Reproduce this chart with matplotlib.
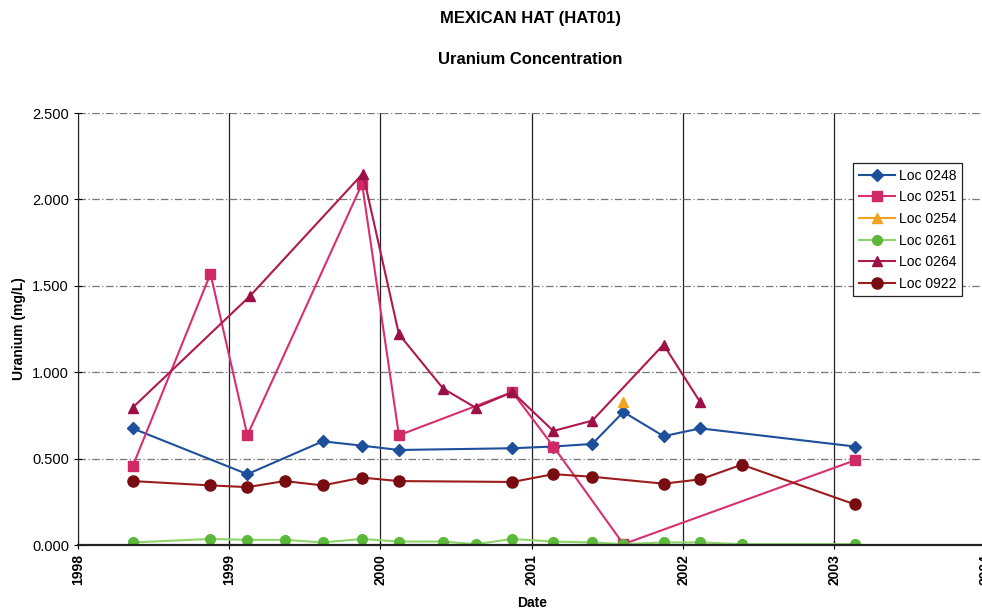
# Mexican Hat (HAT01) uranium concentration chart
import pandas as pd
import matplotlib
matplotlib.use('Agg')
import matplotlib.pyplot as plt
import matplotlib.dates as mdates

plt.rcParams['font.family'] = ['Liberation Sans', 'DejaVu Sans']

# sample dates and values
d_0248 = ['1998-05-13', '1999-02-14', '1999-08-15', '1999-11-18', '2000-02-15',
          '2000-11-15', '2001-02-22', '2001-05-27', '2001-08-10', '2001-11-15',
          '2002-02-12', '2003-02-20']
v_0248 = [0.675, 0.41, 0.60, 0.575, 0.55, 0.56, 0.57, 0.585, 0.77, 0.63, 0.675, 0.57]

d_0251 = ['1998-05-13', '1998-11-17', '1999-02-14', '1999-11-18', '2000-02-15',
          '2000-11-15', '2001-02-22', '2001-08-10', '2003-02-20']
v_0251 = [0.455, 1.57, 0.635, 2.09, 0.635, 0.885, 0.57, 0.005, 0.49]

d_0254 = ['2001-08-10']
v_0254 = [0.825]

d_0261 = ['1998-05-13', '1998-11-17', '1999-02-14', '1999-05-15', '1999-08-15',
          '1999-11-18', '2000-02-15', '2000-06-01', '2000-08-18', '2000-11-15',
          '2001-02-22', '2001-05-27', '2001-08-10', '2001-11-15', '2002-02-12',
          '2002-05-23', '2003-02-20']
v_0261 = [0.015, 0.035, 0.03, 0.03, 0.015, 0.035, 0.02, 0.02, 0.005, 0.035,
          0.02, 0.015, 0.005, 0.015, 0.015, 0.005, 0.005]

d_0264 = ['1998-05-13', '1999-02-20', '1999-11-20', '2000-02-15', '2000-06-01',
          '2000-08-18', '2000-11-15', '2001-02-22', '2001-05-27', '2001-11-15',
          '2002-02-12']
v_0264 = [0.795, 1.44, 2.15, 1.22, 0.905, 0.795, 0.885, 0.66, 0.72, 1.16, 0.825]

d_0922 = ['1998-05-13', '1998-11-17', '1999-02-14', '1999-05-15', '1999-08-15',
          '1999-11-18', '2000-02-15', '2000-11-15', '2001-02-22', '2001-05-27',
          '2001-11-15', '2002-02-12', '2002-05-23', '2003-02-20']
v_0922 = [0.37, 0.345, 0.335, 0.37, 0.345, 0.39, 0.37, 0.365, 0.41, 0.395,
          0.355, 0.38, 0.465, 0.235]

series = [
    ('Loc 0248', d_0248, v_0248, '#1d4f9a', '#1d4f9a', 'D', 6),
    ('Loc 0251', d_0251, v_0251, '#d8306e', '#d02a66', 's', 7),
    ('Loc 0254', d_0254, v_0254, '#f2a31f', '#f2a31f', '^', 7),
    ('Loc 0261', d_0261, v_0261, '#8ed46a', '#5cb83a', 'o', 7),
    ('Loc 0264', d_0264, v_0264, '#b0184e', '#9c1048', '^', 7),
    ('Loc 0922', d_0922, v_0922, '#9a1c1c', '#780c10', 'o', 8),
]

fig = plt.figure(figsize=(9.82, 6.11), dpi=100)
ax = fig.add_axes([0.0794, 0.108, 0.924, 0.707])

for name, d, v, lc, mc, mk, ms in series:
    ax.plot(pd.to_datetime(d), v, color=lc, lw=1.5, marker=mk, ms=ms,
            mfc=mc, mec=mc, label=name)

ax.set_xlim(pd.Timestamp('1998-01-01'), pd.Timestamp('2004-01-01'))
ax.set_ylim(0, 2.5)
ax.set_yticks([0, 0.5, 1.0, 1.5, 2.0, 2.5])
ax.yaxis.set_major_formatter(plt.FormatStrFormatter('%.3f'))
ax.xaxis.set_major_locator(mdates.YearLocator())
ax.xaxis.set_major_formatter(mdates.DateFormatter('%Y'))

ax.grid(axis='x', color='#222222', lw=0.9, ls='-')
ax.grid(axis='y', color='#777777', lw=0.9, ls=(0, (6, 2, 1, 2)))
ax.set_axisbelow(True)

for s in ['top', 'right']:
    ax.spines[s].set_visible(False)
ax.spines['left'].set_color('#222222')
ax.spines['bottom'].set_color('#222222')
ax.spines['bottom'].set_linewidth(1.6)

ax.tick_params(axis='y', labelsize=10.5, direction='inout', length=6)
ax.tick_params(axis='x', labelsize=10, direction='inout', length=6,
               labelrotation=90)
for lbl in ax.get_xticklabels():
    lbl.set_fontweight('bold')

ax.set_ylabel('Uranium (mg/L)', fontsize=10, fontweight='bold')
ax.yaxis.set_label_coords(-0.057, 0.5)
ax.set_xlabel('Date', fontsize=10, fontweight='bold')
ax.xaxis.set_label_coords(0.5, -0.118)

fig.text(0.540, 0.9705, 'MEXICAN HAT (HAT01)', ha='center', va='center',
         fontsize=12, fontweight='bold')
fig.text(0.540, 0.902, 'Uranium Concentration', ha='center', va='center',
         fontsize=12, fontweight='bold')

leg = ax.legend(loc='upper right', bbox_to_anchor=(0.980, 0.733),
                bbox_transform=fig.transFigure, borderaxespad=0,
                fontsize=10, fancybox=False, framealpha=1, edgecolor='#222222',
                handlelength=2.6, labelspacing=0.55, handletextpad=0.3,
                borderpad=0.4)
leg.get_frame().set_linewidth(0.9)

fig.savefig('out.png', dpi=100)
